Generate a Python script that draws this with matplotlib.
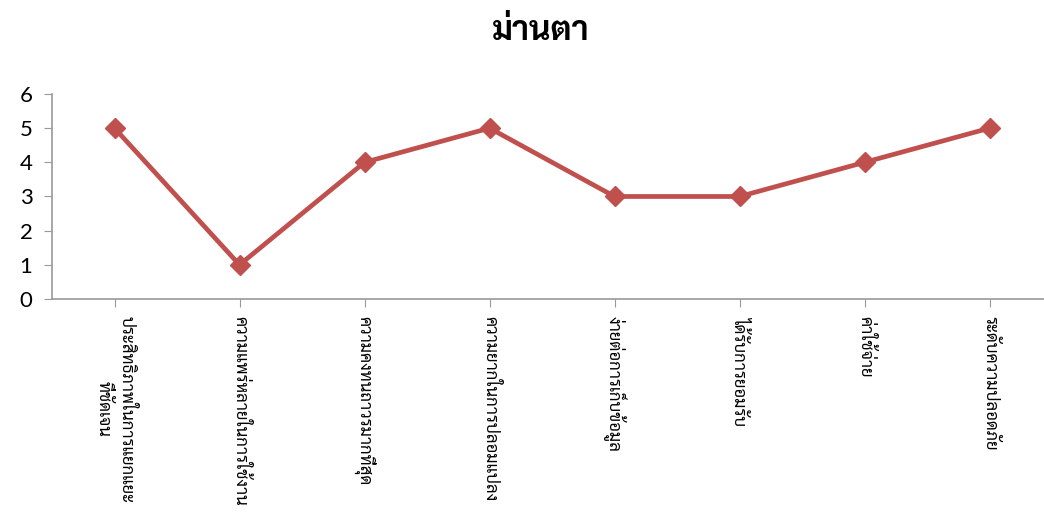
import matplotlib
matplotlib.use("Agg")
from matplotlib import pyplot as plt

plt.rcParams["font.family"] = ["Sarabun", "DejaVu Sans"]

title = "ม่านตา"
categories = [
    "ประสิทธิภาพในการแยกแยะ\nที่ชัดเจน",
    "ความแพร่หลายในการใช้งาน",
    "ความคงทนถาวรมากที่สุด",
    "ความยากในการปลอมแปลง",
    "ง่ายต่อการเก็บข้อมูล",
    "ได้รับการยอมรับ",
    "ค่าใช้จ่าย",
    "ระดับความปลอดภัย",
]
scores = [5, 1, 4, 5, 3, 3, 4, 5]

fig = plt.figure(figsize=(10.44, 5.22), dpi=100)
ax = fig.add_axes([0.0498, 0.4272, 0.958, 0.3928])

x = list(range(len(categories)))
ax.plot(x, scores, color="#C0504D", lw=3.4, marker="D", ms=10,
        markerfacecolor="#C0504D", markeredgecolor="#C0504D", clip_on=False)

ax.set_xlim(-0.5, len(categories) - 0.5)
ax.set_ylim(0, 6)
ax.set_yticks(range(0, 7))
ax.set_xticks(x)
ax.set_xticklabels(categories, rotation=270, va="top", ha="center",
                   fontsize=12, multialignment="center", linespacing=1.5)
ax.tick_params(axis="y", labelsize=16, length=6, color="#999999", pad=8)
for lab in ax.get_yticklabels():
    lab.set_family(["Lato", "DejaVu Sans"])
ax.tick_params(axis="x", length=6, color="#999999", pad=6)

for s in ["top", "right"]:
    ax.spines[s].set_visible(False)
for s in ["left", "bottom"]:
    ax.spines[s].set_color("#999999")
    ax.spines[s].set_linewidth(1.2)

fig.text(0.518, 0.94, title, ha="center", va="center", fontsize=24, fontweight="bold")

fig.savefig("out.png", dpi=100)
